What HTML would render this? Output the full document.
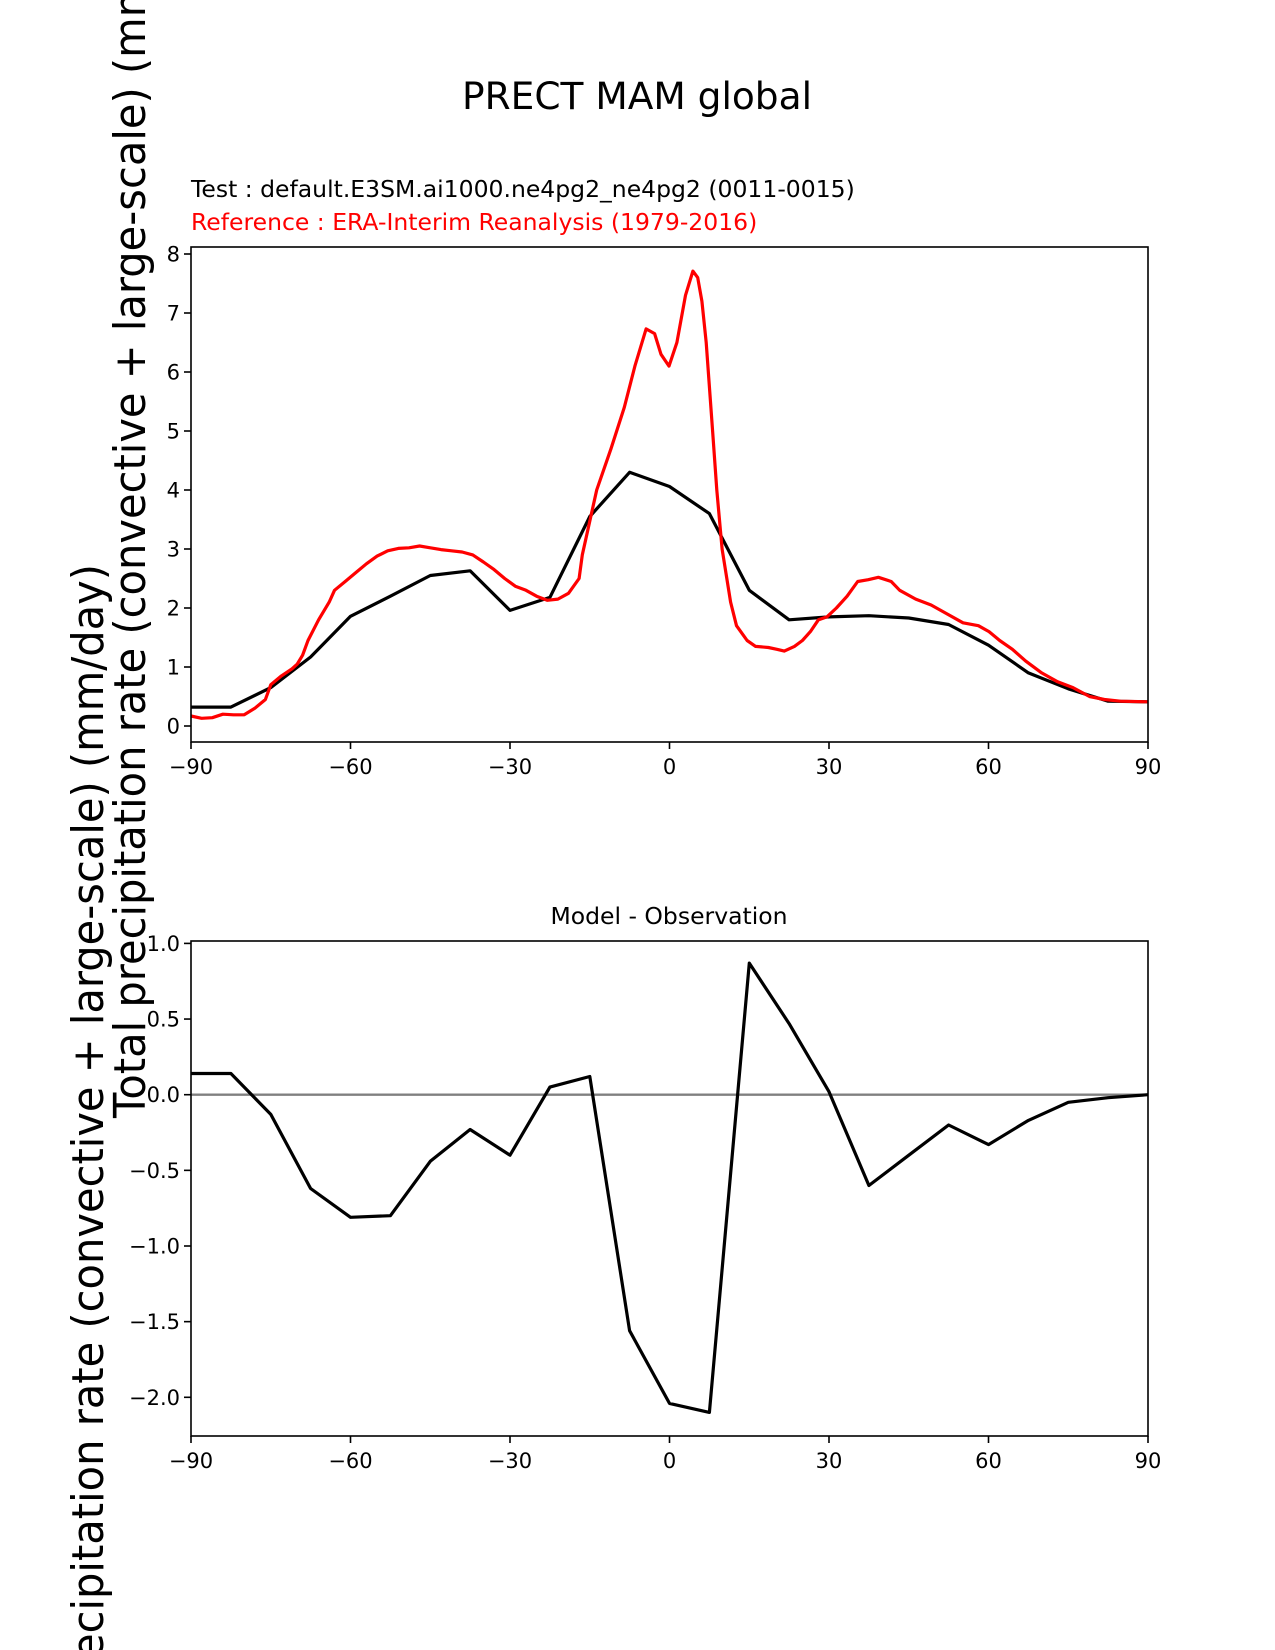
<!DOCTYPE html>
<html><head><meta charset="utf-8">
<style>
html,body{margin:0;padding:0;background:#fff;overflow:hidden;}
svg{display:block;font-family:"DejaVu Sans","Liberation Sans",sans-serif;}
</style></head>
<body>
<svg id="fig" width="1275" height="1650" viewBox="0 0 1275 1650" xmlns="http://www.w3.org/2000/svg">
<rect width="1275" height="1650" fill="#fff"/>
<text x="637" y="109" font-size="37.5" text-anchor="middle">PRECT MAM global</text>
<text x="191" y="197" font-size="23.5">Test : default.E3SM.ai1000.ne4pg2_ne4pg2 (0011-0015)</text>
<text x="191" y="230" font-size="23.5" fill="#ff0000">Reference : ERA-Interim Reanalysis (1979-2016)</text>
<text x="669" y="924" font-size="23.5" text-anchor="middle">Model - Observation</text>
<g id="topg"></g>
<g id="botg"></g>
<text transform="translate(145,494) rotate(-90)" font-size="44" text-anchor="middle" textLength="1248" lengthAdjust="spacingAndGlyphs">Total precipitation rate (convective + large-scale) (mm/day)</text>
<text transform="translate(103,1188) rotate(-90)" font-size="44" text-anchor="middle" textLength="1248" lengthAdjust="spacingAndGlyphs">Total precipitation rate (convective + large-scale) (mm/day)</text>
</svg>
<script>
const modelLat = [-90,-82.5,-75,-67.5,-60,-52.5,-45,-37.5,-30,-22.5,-15,-7.5,0,7.5,15,22.5,30,37.5,45,52.5,60,67.5,75,82.5,90];
const modelVals = [0.32,0.32,0.65,1.17,1.86,2.2,2.55,2.63,1.96,2.18,3.55,4.3,4.06,3.6,2.3,1.8,1.85,1.87,1.83,1.72,1.37,0.9,0.63,0.42,0.41];
const diffVals = [0.14,0.14,-0.13,-0.62,-0.81,-0.80,-0.44,-0.23,-0.40,0.05,0.12,-1.56,-2.04,-2.1,0.87,0.47,0.02,-0.6,-0.4,-0.2,-0.33,-0.17,-0.05,-0.02,0];
const refLat = [-90,-88,-86,-84,-82,-80,-78,-76,-75,-73,-71,-70,-69,-68,-66,-64,-63,-61,-59,-57,-55,-53,-51,-49,-47,-45,-43,-41,-39,-37,-35,-33,-31,-29,-27,-25,-23,-21,-19,-17,-16.4,-13.7,-11,-8.5,-6.5,-4.4,-2.8,-1.6,-0.1,1.4,3,4.4,5.3,6.1,6.9,8.1,8.9,9.9,11.5,12.6,14.6,16.2,18.6,20.2,21.6,23.5,25,26.5,28,29.6,31.4,33.4,35.4,37.4,39.3,41.7,43.3,46.3,49.2,52.2,55.2,58.1,60.1,62.1,64.5,67,70,73,75.9,79,81.8,84.8,90];
const refVals = [0.17,0.13,0.14,0.2,0.19,0.19,0.3,0.45,0.7,0.85,0.97,1.05,1.2,1.45,1.8,2.1,2.3,2.45,2.6,2.75,2.88,2.97,3.01,3.02,3.05,3.02,2.99,2.97,2.95,2.9,2.78,2.65,2.5,2.37,2.3,2.2,2.13,2.15,2.25,2.5,2.9,4.0,4.7,5.4,6.1,6.73,6.65,6.3,6.1,6.5,7.3,7.71,7.6,7.2,6.5,5.0,4.0,3.0,2.1,1.7,1.45,1.35,1.33,1.3,1.27,1.35,1.45,1.6,1.8,1.85,2.0,2.2,2.45,2.48,2.52,2.45,2.3,2.15,2.05,1.9,1.75,1.7,1.6,1.45,1.3,1.1,0.9,0.75,0.65,0.5,0.45,0.42,0.41];
const xTicks = [-90,-60,-30,0,30,60,90];
const xTickLabels = ["\u221290","\u221260","\u221230","0","30","60","90"];
const topYTicks = [0,1,2,3,4,5,6,7,8];
const botYTicks = [1.0,0.5,0.0,-0.5,-1.0,-1.5,-2.0];
const botYTickLabels = ["1.0","0.5","0.0","\u22120.5","\u22121.0","\u22121.5","\u22122.0"];

const NS="http://www.w3.org/2000/svg";
const L=191,R=1148;
const xs = lat => L + (lat+90)/180*(R-L);
const yTop = v => 726 - v*59.0;
const yBot = v => 1094.7 - v*151.3;
function mk(parent,tag,attrs){const e=document.createElementNS(NS,tag);for(const k in attrs)e.setAttribute(k,attrs[k]);parent.appendChild(e);return e;}

function axes(g,topY,bottom,yfn,yticks,ylabels,prefix){
  xTicks.forEach((t,i)=>{
    const x=xs(t);
    const tk=mk(g,'line',{x1:x,x2:x,y1:bottom,y2:bottom+7,stroke:'#000','stroke-width':1.6});
    
    
    const tx=mk(g,'text',{x:x,y:bottom+32,'font-size':21,'text-anchor':'middle'});
    tx.textContent=xTickLabels[i];
    
    
  });
  yticks.forEach((t,i)=>{
    const y=yfn(t);
    const tk=mk(g,'line',{x1:L-7,x2:L,y1:y,y2:y,stroke:'#000','stroke-width':1.6});
    
    
    const tx=mk(g,'text',{x:L-11,y:y+7.5,'font-size':21,'text-anchor':'end'});
    tx.textContent=ylabels[i];
    
    
  });
}
function drawLine(g,lats,vals,yfn,color,name){
  const p=mk(g,'polyline',{points:lats.map((l,i)=>xs(l).toFixed(1)+','+yfn(vals[i]).toFixed(1)).join(' '),fill:'none',stroke:color,'stroke-width':3.2,'stroke-linejoin':'round'});
  
  
}
const topG=document.getElementById('topg'), botG=document.getElementById('botg');
drawLine(topG,modelLat,modelVals,yTop,'#000','model-line');
drawLine(topG,refLat,refVals,yTop,'#ff0000','reference-line');
const fr1=mk(topG,'rect',{x:L,y:247,width:R-L,height:742-247,fill:'none',stroke:'#000','stroke-width':1.6});


axes(topG,247,742,yTop,topYTicks,topYTicks.map(String),'top');

const zl=mk(botG,'line',{x1:L,x2:R,y1:yBot(0),y2:yBot(0),stroke:'#808080','stroke-width':2.4});


drawLine(botG,modelLat,diffVals,yBot,'#000','difference-line');
const fr2=mk(botG,'rect',{x:L,y:941,width:R-L,height:1436-941,fill:'none',stroke:'#000','stroke-width':1.6});


axes(botG,941,1436,yBot,botYTicks,botYTickLabels,'diff');
</script>
</body></html>
